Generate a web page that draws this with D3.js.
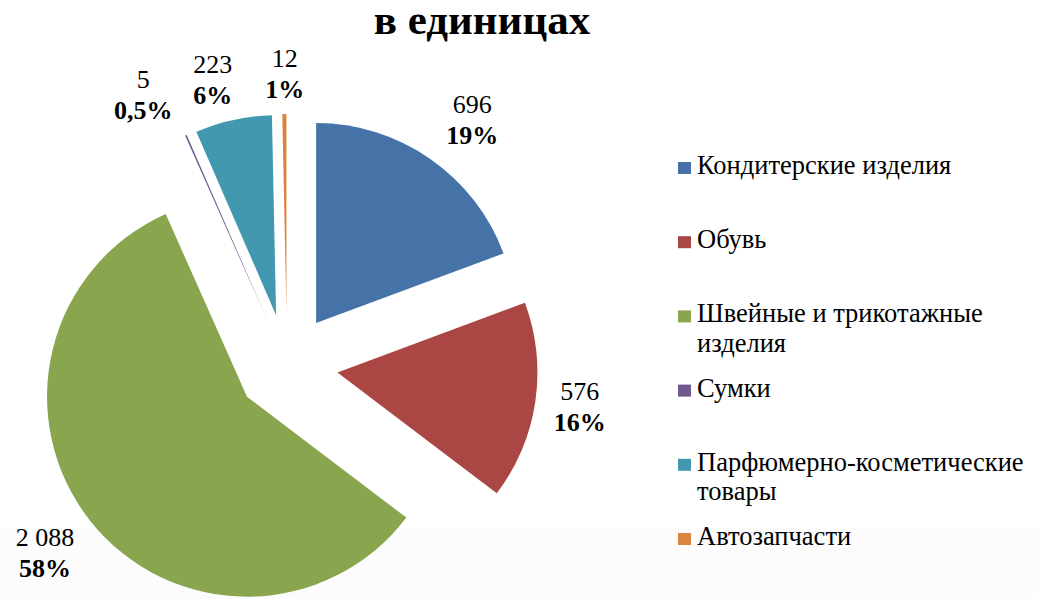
<!DOCTYPE html>
<html>
<head>
<meta charset="utf-8">
<script src="https://cdn.jsdelivr.net/npm/d3@7"></script>
<style>
  body { margin: 0; background: #fff; }
  svg { display: block; }
</style>
</head>
<body>
<svg id="chart" width="1039" height="599"></svg>
<script>
// data
const categories = [
  'Кондитерские изделия',
  'Обувь',
  'Швейные и трикотажные изделия',
  'Сумки',
  'Парфюмерно-косметические товары',
  'Автозапчасти'
];
const values = [696, 576, 2088, 5, 223, 12];
const percentLabels = ['19%', '16%', '58%', '0,5%', '6%', '1%'];
const legendLines = [
  ['Кондитерские изделия'],
  ['Обувь'],
  ['Швейные и трикотажные', 'изделия'],
  ['Сумки'],
  ['Парфюмерно-косметические', 'товары'],
  ['Автозапчасти']
];
const colors = ['#4572a7', '#aa4643', '#89a54e', '#71588f', '#4198af', '#db843d'];

(function () {
  const svg = d3.select('#chart');
  const width = 1039, height = 599;
  const font = 'Liberation Serif';

  const cx = 287, cy = 365;
  const radius = 200;
  const explode = 51;
  const labelRadius = 300;

  // small manual nudges, like the hand-placed labels in the original
  const labelNudge = [[14, 1], [-4, -2], [-7, 2], [-23, 5], [-10, 8], [1, 9]];

  const ru = d3.formatLocale({ decimal: ',', thousands: ' ', grouping: [3], currency: ['', ''] });
  const fmt = ru.format(',d');

  const color = d3.scaleOrdinal().domain(categories).range(colors);

  // faint band at the bottom
  svg.append('rect')
    .attr('x', 0).attr('y', 528)
    .attr('width', width).attr('height', height - 528)
    .attr('fill', '#fcfcfc');

  svg.append('text')
    .attr('x', 482)
    .attr('y', 34)
    .attr('text-anchor', 'middle')
    .attr('font-family', font)
    .attr('font-size', 43)
    .attr('font-weight', 'bold')
    .text('в единицах');

  const rows = categories.map((c, i) => ({ name: c, value: values[i], pct: percentLabels[i], i }));

  const pie = d3.pie().sort(null).value((d) => d.value);
  const arc = d3.arc().innerRadius(0).outerRadius(radius);
  const arcs = pie(rows);

  const mid = (a) => (a.startAngle + a.endAngle) / 2;

  const g = svg.append('g').attr('transform', `translate(${cx},${cy})`);

  g.selectAll('path.slice')
    .data(arcs)
    .enter()
    .append('path')
    .attr('class', 'slice')
    .attr('fill', (d) => color(d.data.name))
    .attr('transform', (d) => {
      const m = mid(d);
      return `translate(${Math.sin(m) * explode},${-Math.cos(m) * explode})`;
    })
    .attr('d', arc);

  const labels = g.selectAll('g.label')
    .data(arcs)
    .enter()
    .append('g')
    .attr('class', 'label')
    .attr('transform', (d) => {
      const m = mid(d);
      const n = labelNudge[d.data.i];
      return `translate(${Math.sin(m) * labelRadius + n[0]},${-Math.cos(m) * labelRadius + n[1]})`;
    });

  labels.append('text')
    .attr('text-anchor', 'middle')
    .attr('y', -7)
    .attr('font-family', font)
    .attr('font-size', 26)
    .text((d) => fmt(d.data.value));

  labels.append('text')
    .attr('text-anchor', 'middle')
    .attr('y', 24)
    .attr('font-family', font)
    .attr('font-size', 26)
    .attr('font-weight', 'bold')
    .text((d) => d.data.pct);

  // legend
  const legendX = 678;
  const legendY = d3.scaleLinear().domain([0, categories.length - 1]).range([174, 545]);

  const legend = svg.append('g').attr('class', 'legend');
  const items = legend.selectAll('g')
    .data(categories)
    .enter()
    .append('g')
    .attr('transform', (d, i) => `translate(${legendX},${legendY(i)})`);

  items.append('rect')
    .attr('x', 0)
    .attr('y', -12)
    .attr('width', 13)
    .attr('height', 12)
    .attr('fill', (d) => color(d));

  items.each(function (d, i) {
    const t = d3.select(this).append('text')
      .attr('font-family', font)
      .attr('font-size', 26.5);
    legendLines[i].forEach((line, j) => {
      t.append('tspan')
        .attr('x', 19)
        .attr('y', j * 29.5)
        .text(line);
    });
  });
})();
</script>
</body>
</html>
